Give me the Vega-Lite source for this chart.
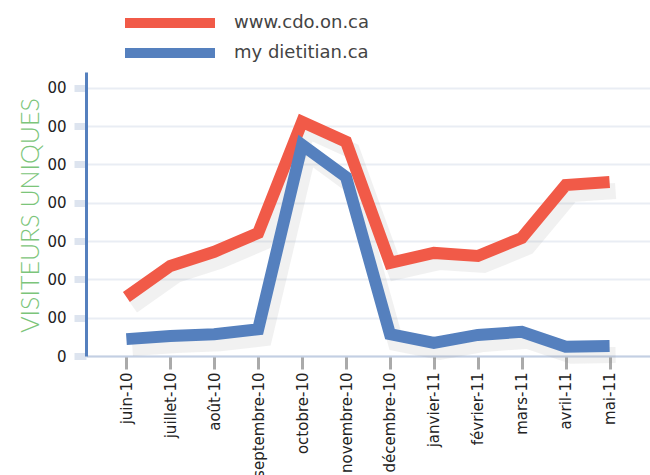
{
  "$schema": "https://vega.github.io/schema/vega-lite/v6.json",
  "width": 564,
  "height": 284,
  "autosize": {"type": "none"},
  "padding": {"left": 86, "top": 72, "right": 0, "bottom": 119},
  "background": "white",
  "config": {
    "view": {"stroke": null},
    "font": "DejaVu Sans"
  },
  "data": {
    "values": [
      {"mois": "juin-10", "site": "www.cdo.on.ca", "visiteurs": 154},
      {"mois": "juillet-10", "site": "www.cdo.on.ca", "visiteurs": 235},
      {"mois": "août-10", "site": "www.cdo.on.ca", "visiteurs": 272},
      {"mois": "septembre-10", "site": "www.cdo.on.ca", "visiteurs": 321},
      {"mois": "octobre-10", "site": "www.cdo.on.ca", "visiteurs": 611},
      {"mois": "novembre-10", "site": "www.cdo.on.ca", "visiteurs": 559},
      {"mois": "décembre-10", "site": "www.cdo.on.ca", "visiteurs": 243},
      {"mois": "janvier-11", "site": "www.cdo.on.ca", "visiteurs": 269},
      {"mois": "février-11", "site": "www.cdo.on.ca", "visiteurs": 261},
      {"mois": "mars-11", "site": "www.cdo.on.ca", "visiteurs": 308},
      {"mois": "avril-11", "site": "www.cdo.on.ca", "visiteurs": 446},
      {"mois": "mai-11", "site": "www.cdo.on.ca", "visiteurs": 454},
      {"mois": "juin-10", "site": "my dietitian.ca", "visiteurs": 44},
      {"mois": "juillet-10", "site": "my dietitian.ca", "visiteurs": 52},
      {"mois": "août-10", "site": "my dietitian.ca", "visiteurs": 57},
      {"mois": "septembre-10", "site": "my dietitian.ca", "visiteurs": 70},
      {"mois": "octobre-10", "site": "my dietitian.ca", "visiteurs": 551},
      {"mois": "novembre-10", "site": "my dietitian.ca", "visiteurs": 467},
      {"mois": "décembre-10", "site": "my dietitian.ca", "visiteurs": 57},
      {"mois": "janvier-11", "site": "my dietitian.ca", "visiteurs": 34},
      {"mois": "février-11", "site": "my dietitian.ca", "visiteurs": 55},
      {"mois": "mars-11", "site": "my dietitian.ca", "visiteurs": 63},
      {"mois": "avril-11", "site": "my dietitian.ca", "visiteurs": 24},
      {"mois": "mai-11", "site": "my dietitian.ca", "visiteurs": 26}
    ]
  },
  "encoding": {
    "x": {
      "field": "mois",
      "type": "ordinal",
      "sort": null,
      "scale": {"type": "point", "padding": 0.92},
      "axis": {
        "title": null,
        "labelAngle": -90,
        "labelAlign": "right",
        "labelBaseline": "middle",
        "labelFontSize": 15,
        "labelColor": "#222222",
        "labelPadding": 3,
        "tickColor": "#aaaaaa",
        "tickWidth": 3,
        "tickSize": 13,
        "domainColor": "#c3cfe3",
        "domainWidth": 2,
        "grid": false
      }
    },
    "y": {
      "field": "visiteurs",
      "type": "quantitative",
      "scale": {"domain": [0, 741], "nice": false},
      "axis": {
        "title": "VISITEURS UNIQUES",
        "titleFont": "Lato",
        "titleFontSize": 25,
        "titleFontWeight": 300,
        "titleColor": "#7cc57a",
        "titleAngle": -90,
        "titleX": -56,
        "titleY": 143,
        "titleAlign": "center",
        "titleBaseline": "middle",
        "values": [0, 100, 200, 300, 400, 500, 600, 700],
        "labelExpr": "slice(toString(datum.value), -2)",
        "labelFontSize": 15,
        "labelColor": "#222222",
        "labelPadding": 8,
        "tickColor": "#dde4ef",
        "tickWidth": 7,
        "tickSize": 12,
        "domainColor": "#5580be",
        "domainWidth": 3,
        "grid": true,
        "gridColor": "#e9edf4",
        "gridWidth": 2
      }
    }
  },
  "layer": [
    {
      "mark": {"type": "line", "stroke": "#888888", "strokeWidth": 16, "opacity": 0.12, "xOffset": 6, "yOffset": 9, "strokeJoin": "miter"},
      "encoding": {"detail": {"field": "site"}}
    },
    {
      "mark": {"type": "line", "strokeWidth": 12, "strokeJoin": "miter", "strokeCap": "butt"},
      "encoding": {
        "color": {
          "field": "site",
          "type": "nominal",
          "scale": {"domain": ["www.cdo.on.ca", "my dietitian.ca"], "range": ["#f15a48", "#5580be"]},
          "legend": {
            "title": null,
            "orient": "none",
            "legendX": 74,
            "legendY": -59,
            "symbolType": "M-9,0H9",
            "symbolSize": 100,
            "symbolStrokeWidth": 10,
            "labelFontSize": 18,
            "labelColor": "#444444",
            "labelOffset": 54,
            "rowPadding": -23
          }
        }
      }
    }
  ]
}
